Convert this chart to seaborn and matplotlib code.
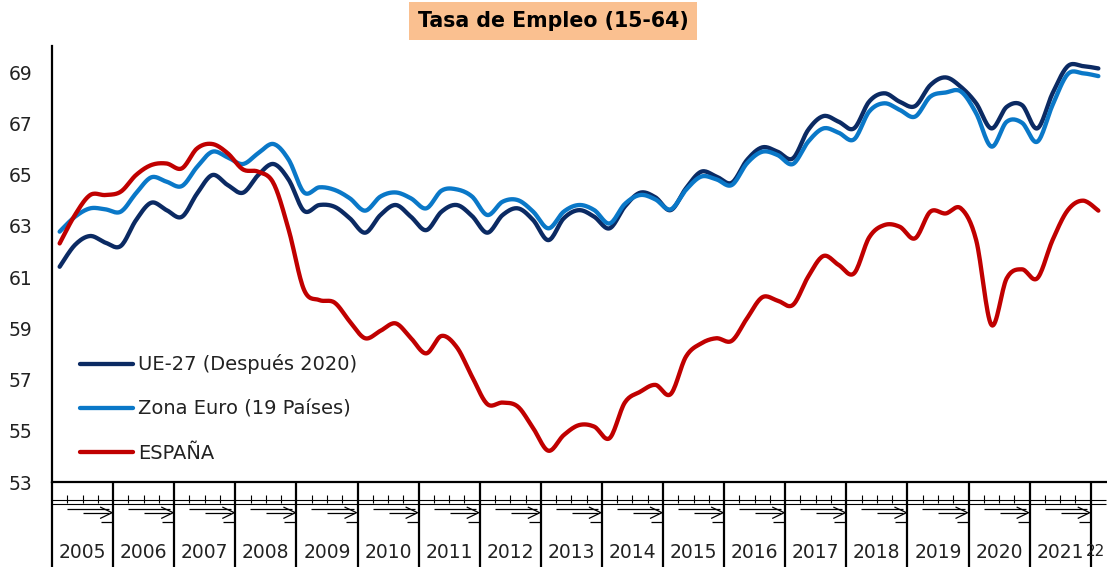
import numpy as np
import pandas as pd
import matplotlib
matplotlib.use("Agg")
import matplotlib.pyplot as plt
import matplotlib.transforms as mtransforms
import seaborn as sns

# ---------------- data (quarterly, 2005Q1 .. 2022Q1) ----------------
years = [str(y) for y in range(2005, 2022)] + ["22"]
series_names = ["UE-27 (Después 2020)", "Zona Euro (19 Países)", "ESPAÑA"]

ue27 = [61.4, 62.25, 62.6, 62.34, 62.21, 63.22, 63.9, 63.61, 63.35, 64.26, 64.98, 64.59,
        64.29, 64.98, 65.41, 64.79, 63.58, 63.81, 63.74, 63.29, 62.73, 63.42, 63.81, 63.35,
        62.83, 63.55, 63.81, 63.38, 62.73, 63.42, 63.68, 63.22, 62.44, 63.29, 63.61, 63.35,
        62.9, 63.75, 64.29, 64.11, 63.61, 64.46, 65.11, 64.92, 64.68, 65.57, 66.06, 65.89,
        65.63, 66.74, 67.28, 67.06, 66.8, 67.85, 68.17, 67.84, 67.67, 68.49, 68.79, 68.42,
        67.78, 66.8, 67.64, 67.71, 66.8, 68.17, 69.23, 69.23, 69.14]

zona_euro = [62.77, 63.35, 63.68, 63.64, 63.55, 64.27, 64.89, 64.72, 64.55, 65.3, 65.89, 65.67,
             65.41, 65.83, 66.19, 65.57, 64.3, 64.5, 64.4, 64.07, 63.59, 64.14, 64.3, 64.07,
             63.68, 64.37, 64.42, 64.14, 63.42, 63.94, 64.0, 63.55, 62.9, 63.55, 63.81, 63.61,
             63.09, 63.85, 64.2, 64.03, 63.64, 64.4, 64.92, 64.81, 64.59, 65.44, 65.89, 65.76,
             65.41, 66.28, 66.8, 66.63, 66.37, 67.46, 67.78, 67.52, 67.26, 68.04, 68.2, 68.24,
             67.39, 66.09, 67.06, 67.02, 66.28, 67.71, 68.92, 68.95, 68.84]

espana = [62.31, 63.42, 64.2, 64.2, 64.33, 64.98, 65.37, 65.43, 65.24, 66.02, 66.19, 65.83,
          65.2, 65.11, 64.66, 62.83, 60.5, 60.1, 60.0, 59.26, 58.61, 58.9, 59.19, 58.61,
          58.02, 58.7, 58.26, 57.11, 56.04, 56.1, 55.94, 55.1, 54.22, 54.83, 55.22, 55.16,
          54.71, 56.1, 56.52, 56.79, 56.43, 57.89, 58.41, 58.61, 58.51, 59.39, 60.21, 60.08,
          59.91, 61.01, 61.82, 61.47, 61.14, 62.55, 63.03, 62.96, 62.51, 63.55, 63.48, 63.68,
          62.44, 59.13, 60.95, 61.3, 60.95, 62.44, 63.61, 63.98, 63.59]

y_ticks = [53, 55, 57, 59, 61, 63, 65, 67, 69]
title = "Tasa de Empleo (15-64)"
colors = ["#0B2A63", "#0A78C8", "#C00000"]


def smooth(vals, n=16):
    """Catmull-Rom rendering of the line through the data points (like Excel smoothed lines)."""
    v = np.asarray(vals, float)
    x = np.arange(len(v), dtype=float)
    pv = np.concatenate([[v[0]], v, [v[-1]]])
    px = np.concatenate([[x[0]], x, [x[-1]]])
    xs, ys = [], []
    t = np.linspace(0, 1, n, endpoint=False)
    for i in range(len(v) - 1):
        for arr, out in ((px, xs), (pv, ys)):
            p0, p1, p2, p3 = arr[i], arr[i + 1], arr[i + 2], arr[i + 3]
            out.append(0.5 * (2 * p1 + (-p0 + p2) * t + (2 * p0 - 5 * p1 + 4 * p2 - p3) * t ** 2
                              + (-p0 + 3 * p1 - 3 * p2 + p3) * t ** 3))
    xs.append([x[-1]]); ys.append([v[-1]])
    return np.concatenate(xs), np.concatenate(ys)


sns.set_theme(style="white")
plt.rcParams["font.family"] = ["DejaVu Sans"]

W, H = 1107, 567
fig = plt.figure(figsize=(W / 100, H / 100), dpi=100)
ax_left_px, ax_right_px, ax_top_px, ax_bot_px = 52, 1106, 46.4, 482
ax = fig.add_axes([ax_left_px / W, 1 - ax_bot_px / H,
                   (ax_right_px - ax_left_px) / W, (ax_bot_px - ax_top_px) / H])

for name, vals, c in zip(series_names, [ue27, zona_euro, espana], colors):
    sx, sy = smooth(vals)
    df = pd.DataFrame({"x": sx, "y": sy})
    sns.lineplot(data=df, x="x", y="y", ax=ax, color=c, linewidth=3.1, sort=False,
                 label=name, solid_capstyle="round")

nq = len(espana)
ax.set_xlim(-0.5, nq - 0.5)
ax.set_ylim(53, 70)
ax.set_yticks(y_ticks)
ax.set_yticklabels([str(t) for t in y_ticks], fontsize=13.5, color="#222222")
ax.tick_params(axis="y", length=0, pad=14)
ax.set_xticks([])
ax.set_xlabel("")
ax.set_ylabel("")
for s in ["top", "right"]:
    ax.spines[s].set_visible(False)
for s in ["left", "bottom"]:
    ax.spines[s].set_color("black")
    ax.spines[s].set_linewidth(1.6)

# ---- x axis category boxes (year groups) ----
trans = mtransforms.blended_transform_factory(ax.transData, ax.transAxes)
axh = ax_bot_px - ax_top_px
pxq = (ax_right_px - ax_left_px) / nq


def fy(p):
    return (ax_bot_px - p) / axh


def dx(p):
    return p / pxq


kw = dict(transform=trans, clip_on=False, color="black", solid_capstyle="butt")
nbox = len(years)
for k in range(nbox):
    L = -0.5 + 4 * k
    ax.plot([L, L], [fy(482), fy(570)], lw=1.6, **kw)
for yy in (500, 504.3):
    ax.plot([-0.5, nq - 0.5], [fy(yy), fy(yy)], lw=0.8, **kw)
for j in range(1, nq):
    if j % 4:
        ax.plot([-0.5 + j, -0.5 + j], [fy(495), fy(503)], lw=0.8, **kw)
for k in range(nbox - 1):
    L = -0.5 + 4 * k
    R = L + 4
    ax.plot([L + dx(15), R - dx(4)], [fy(509.3), fy(509.3)], lw=0.9, **kw)
    ax.plot([L + dx(31), R - dx(4)], [fy(512.7), fy(512.7)], lw=0.9, **kw)
    ax.plot([R - dx(13), R - dx(1), R - dx(13)], [fy(507), fy(512.7), fy(518.5)], lw=0.9, **kw)
    ax.plot([R - dx(12), R], [fy(521.7), fy(521.7)], lw=0.9, **kw)
for k, lab in enumerate(years):
    L = -0.5 + 4 * k
    R = min(L + 4, nq - 0.5)
    if k == nbox - 1:
        xc, ha, fs = R - dx(0.5), "right", 11
    else:
        xc, ha, fs = (L + R) / 2, "center", 13.5
    ax.text(xc, fy(552), lab, transform=trans, ha=ha, va="center",
            fontsize=fs, color="#222222", clip_on=False)

# ---- legend ----
leg = ax.legend(loc="upper left", bbox_to_anchor=(0.0266, 0.293), frameon=False,
                fontsize=14, handlelength=2.7, handletextpad=0.3, labelspacing=1.3,
                borderaxespad=0, borderpad=0)
for t in leg.get_texts():
    t.set_color("#222222")

# ---- title ----
fig.text(553 / W, 1 - 21 / H, title, ha="center", va="center", fontsize=14.8,
         fontweight="bold", color="black",
         bbox=dict(boxstyle="square,pad=0.42", facecolor="#FAC090", edgecolor="none"))

fig.savefig("out.png", dpi=100)
